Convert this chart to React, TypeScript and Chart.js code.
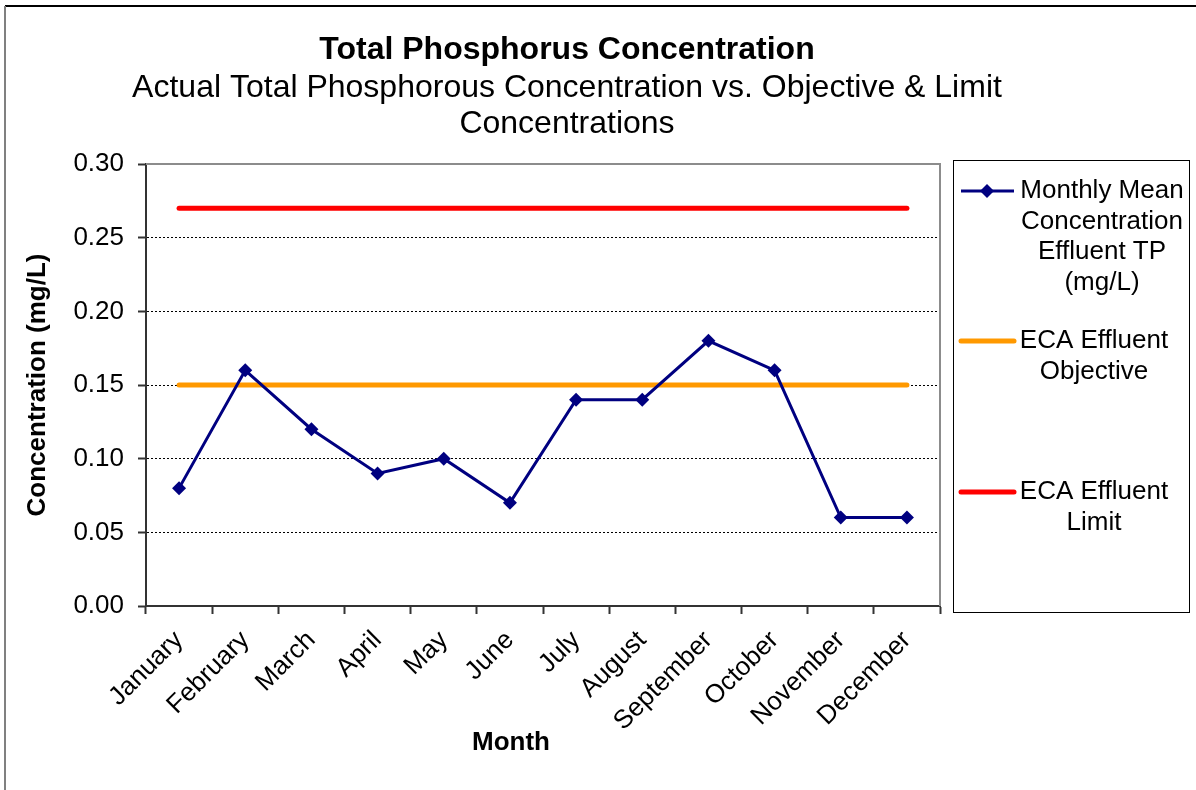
import React, { useEffect, useRef } from "react";
import { Chart, registerables } from "chart.js";

Chart.register(...registerables);

const months = ["January", "February", "March", "April", "May", "June", "July", "August", "September", "October", "November", "December"];
const monthlyMean = [0.08, 0.16, 0.12, 0.09, 0.1, 0.07, 0.14, 0.14, 0.18, 0.16, 0.06, 0.06];
const objective = [0.15, 0.15, 0.15, 0.15, 0.15, 0.15, 0.15, 0.15, 0.15, 0.15, 0.15, 0.15];
const limit = [0.27, 0.27, 0.27, 0.27, 0.27, 0.27, 0.27, 0.27, 0.27, 0.27, 0.27, 0.27];
const yTicks = { min: 0, max: 0.3, step: 0.05 };

const chartTitle = "Total Phosphorus Concentration";
const chartSubtitle = ["Actual Total Phosphorous Concentration vs. Objective & Limit", "Concentrations"];
const xTitle = "Month";
const yTitle = "Concentration (mg/L)";
const legendLabels = [
  ["Monthly Mean", "Concentration", "Effluent TP", "(mg/L)"],
  ["ECA Effluent", "Objective"],
  ["ECA Effluent", "Limit"],
];

const FONT = "Arial, 'Liberation Sans', sans-serif";

const decorPlugin = {
  id: "decor",
  beforeDatasetsDraw(chart: any) {
    const { ctx, chartArea } = chart;
    ctx.save();
    ctx.strokeStyle = "#8c8c8c";
    ctx.lineWidth = 2;
    ctx.beginPath();
    ctx.moveTo(chartArea.left, chartArea.top);
    ctx.lineTo(chartArea.right, chartArea.top);
    ctx.lineTo(chartArea.right, chartArea.bottom);
    ctx.stroke();
    ctx.restore();
  },
  afterDraw(chart: any) {
    const { ctx } = chart;
    ctx.save();
    // outer frame
    ctx.strokeStyle = "#000";
    ctx.lineWidth = 2;
    ctx.beginPath();
    ctx.moveTo(1196, 6);
    ctx.lineTo(5, 6);
    ctx.stroke();
    ctx.strokeStyle = "#808080";
    ctx.beginPath();
    ctx.moveTo(5, 6);
    ctx.lineTo(5, 790);
    ctx.stroke();

    // titles
    ctx.fillStyle = "#000";
    ctx.textAlign = "center";
    ctx.textBaseline = "middle";
    ctx.font = `bold 32px ${FONT}`;
    ctx.fillText(chartTitle, 567, 50);
    ctx.font = `32px ${FONT}`;
    ctx.fillText(chartSubtitle[0], 567, 88);
    ctx.fillText(chartSubtitle[1], 567, 124);

    // axis titles
    ctx.font = `bold 26px ${FONT}`;
    ctx.fillText(xTitle, 511, 743);
    ctx.save();
    ctx.translate(38, 385);
    ctx.rotate(-Math.PI / 2);
    ctx.fillText(yTitle, 0, 0);
    ctx.restore();

    // legend
    ctx.strokeStyle = "#000";
    ctx.lineWidth = 1;
    ctx.strokeRect(953.5, 160.5, 236, 452);
    const starts = [191, 341, 492];
    const centers = [1102, 1094, 1094];
    ctx.font = `26px ${FONT}`;
    chart.data.datasets.forEach((ds: any) => {
      const idx = ds.legendIndex;
      const y = starts[idx];
      ctx.strokeStyle = ds.borderColor;
      ctx.lineWidth = ds.borderWidth;
      ctx.lineCap = idx === 0 ? "butt" : "round";
      ctx.beginPath();
      ctx.moveTo(961, y);
      ctx.lineTo(1014, y);
      ctx.stroke();
      if (idx === 0) {
        ctx.fillStyle = ds.pointBackgroundColor;
        ctx.beginPath();
        const r = 7;
        const cx = 987;
        ctx.moveTo(cx, y - r);
        ctx.lineTo(cx + r, y);
        ctx.lineTo(cx, y + r);
        ctx.lineTo(cx - r, y);
        ctx.closePath();
        ctx.fill();
      }
      ctx.fillStyle = "#000";
      legendLabels[idx].forEach((t, k) => {
        ctx.fillText(t, centers[idx], y + k * 30.5);
      });
    });
    ctx.restore();
  },
};

export default function App() {
  const ref = useRef<HTMLCanvasElement | null>(null);
  useEffect(() => {
    if (!ref.current) return;
    const chart = new Chart(ref.current, {
      type: "line",
      data: {
        labels: months,
        datasets: [
          {
            label: "ECA Effluent Limit",
            data: limit,
            borderColor: "#ff0000",
            backgroundColor: "#ff0000",
            borderWidth: 5,
            borderCapStyle: "round",
            pointRadius: 0,
            legendIndex: 2,
            order: 3,
          } as any,
          {
            label: "ECA Effluent Objective",
            data: objective,
            borderColor: "#ff9900",
            backgroundColor: "#ff9900",
            borderWidth: 5,
            borderCapStyle: "round",
            pointRadius: 0,
            legendIndex: 1,
            order: 2,
          } as any,
          {
            label: "Monthly Mean Concentration Effluent TP (mg/L)",
            data: monthlyMean,
            borderColor: "#000080",
            backgroundColor: "#000080",
            pointBackgroundColor: "#000080",
            pointBorderColor: "#000080",
            borderWidth: 3,
            pointStyle: "rectRot",
            pointRadius: 7,
            pointBorderWidth: 0,
            legendIndex: 0,
            order: 1,
          } as any,
        ],
      },
      options: {
        animation: false,
        responsive: false,
        layout: { padding: { top: 164, right: 256, left: 0, bottom: 0 } },
        plugins: { legend: { display: false }, title: { display: false }, tooltip: { enabled: false } },
        scales: {
          x: {
            offset: true,
            grid: {
              offset: true,
              drawOnChartArea: false,
              drawTicks: true,
              tickLength: 8,
              tickColor: "#333",
              tickWidth: 2,
            },
            border: { color: "#333", width: 2 },
            ticks: {
              color: "#000",
              font: { family: FONT, size: 26 },
              maxRotation: 45,
              minRotation: 45,
              padding: 11,
              autoSkip: false,
            },
            afterFit: (scale: any) => {
              scale.height = 184;
            },
          },
          y: {
            min: yTicks.min,
            max: yTicks.max,
            grid: {
              color: "#000",
              lineWidth: 1,
              tickColor: "#333",
              tickWidth: 2,
              tickLength: 8,
              tickBorderDash: [],
            } as any,
            border: { color: "#333", width: 2, dash: [2, 2] } as any,
            ticks: {
              stepSize: yTicks.step,
              color: "#000",
              font: { family: FONT, size: 26 },
              padding: 14,
              callback: (v: any) => Number(v).toFixed(2),
            },
            afterFit: (scale: any) => {
              scale.width = 146;
            },
          },
        },
      } as any,
      plugins: [decorPlugin],
    });
    return () => chart.destroy();
  }, []);
  return (
    <div style={{ position: "fixed", left: 0, top: 0, width: 1196, height: 790, background: "#fff" }}>
      <canvas ref={ref} width={1196} height={790} style={{ display: "block" }} />
    </div>
  );
}
